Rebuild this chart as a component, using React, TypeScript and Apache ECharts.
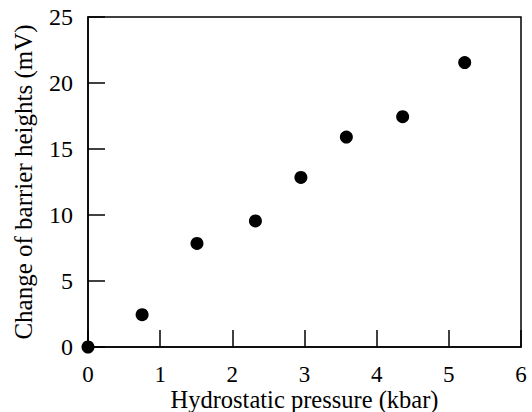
import React, { useEffect, useRef } from "react";
import * as echarts from "echarts";

const pressure = [0, 0.75, 1.51, 2.32, 2.95, 3.58, 4.36, 5.22];
const barrierChange = [0, 2.45, 7.85, 9.55, 12.85, 15.9, 17.45, 21.55];
const xTitle = "Hydrostatic pressure (kbar)";
const yTitle = "Change of barrier heights (mV)";

export default function App() {
  const ref = useRef<HTMLDivElement>(null);
  useEffect(() => {
    if (!ref.current) return;
    const chart = echarts.init(ref.current, undefined, { renderer: "svg" });
    const font = "Liberation Serif";
    chart.setOption({
      animation: false,
      backgroundColor: "#fff",
      grid: {
        left: 88,
        right: 11,
        top: 17,
        bottom: 65,
        show: true,
        borderColor: "#000",
        borderWidth: 1.5,
        outerBoundsMode: "none",
        containLabel: false,
      },
      xAxis: {
        type: "value",
        min: 0,
        max: 6,
        interval: 1,
        name: xTitle,
        nameLocation: "middle",
        nameGap: 42,
        nameMoveOverlap: false,
        nameTextStyle: { fontFamily: font, fontSize: 24.5, lineHeight: 21, color: "#000" },
        axisLine: { show: true, lineStyle: { color: "#000", width: 1.5 } },
        axisTick: { show: true, inside: true, length: 17, lineStyle: { color: "#000", width: 1.5 } },
        axisLabel: { fontFamily: font, fontSize: 23, lineHeight: 20, color: "#000", margin: 17 },
        splitLine: { show: false },
      },
      yAxis: {
        type: "value",
        min: 0,
        max: 25,
        interval: 5,
        name: yTitle,
        nameLocation: "middle",
        nameGap: 52,
        nameMoveOverlap: false,
        nameTextStyle: { fontFamily: font, fontSize: 25, color: "#000" },
        axisLine: { show: true, lineStyle: { color: "#000", width: 1.5 } },
        axisTick: { show: true, inside: true, length: 17, lineStyle: { color: "#000", width: 1.5 } },
        axisLabel: { fontFamily: font, fontSize: 24, color: "#000", margin: 15 },
        splitLine: { show: false },
      },
      series: [
        {
          type: "scatter",
          data: pressure.map((p, i) => [p, barrierChange[i]]),
          symbol: "circle",
          symbolSize: 13,
          itemStyle: { color: "#000", opacity: 1 },
          clip: false,
        },
      ],
    });
    return () => chart.dispose();
  }, []);
  return <div ref={ref} style={{ width: 532, height: 412, position: "absolute", left: 0, top: 0 }} />;
}
